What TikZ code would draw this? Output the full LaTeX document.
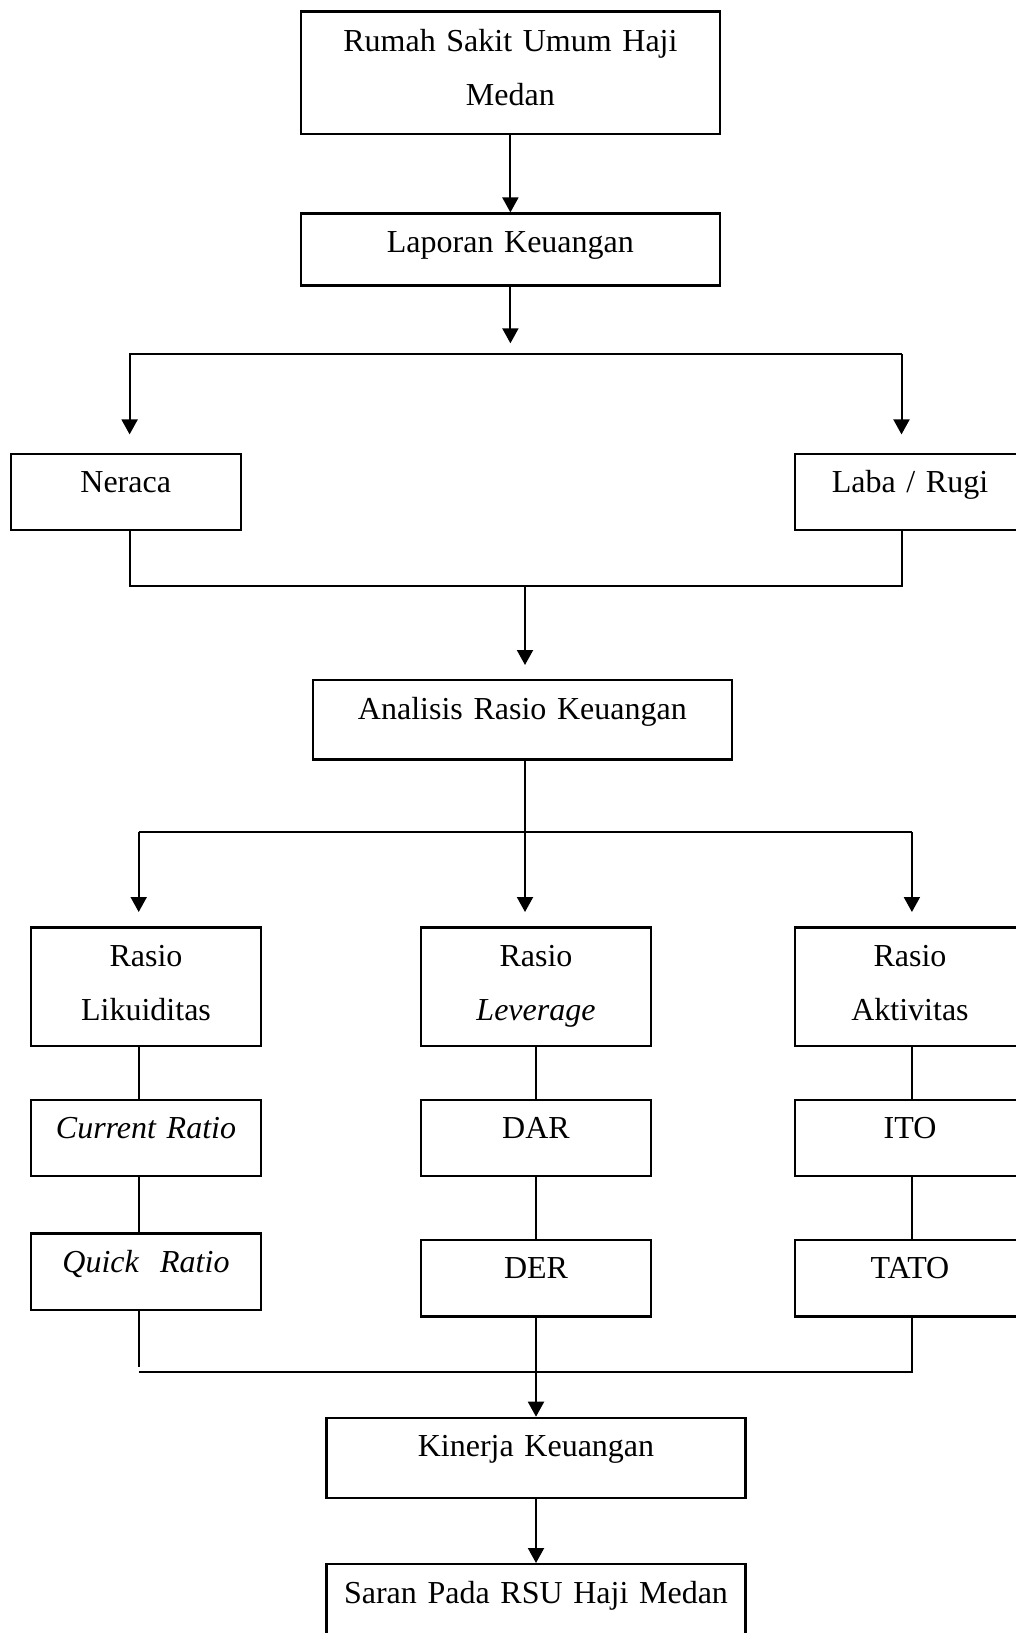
\documentclass[tikz,border=0pt]{standalone}
\usepackage{fontspec}
\setmainfont{Liberation Serif}
\usetikzlibrary{arrows.meta}

\begin{document}
\begin{tikzpicture}[x=0.5pt, y=-0.5pt,
    font=\fontsize{16pt}{27pt}\selectfont,
    box/.style={draw, line width=1.2pt, inner sep=0pt, align=center,
        anchor=north, text height=19.5pt},
    wide/.style={box, text width=209.5pt},
    narrow/.style={box, text width=115pt},
    line/.style={line width=1pt},
    arr/.style={line width=1pt, -{Triangle[length=7.5pt,width=8pt]}}]
    \useasboundingbox (0,0) rectangle (1016,1633);
    \clip (0,0) rectangle (1016,1633);

    % top boxes
    \node[wide, text height=19.75pt, text depth=41.5pt] (rsu) at (510.4,10.3) {Rumah Sakit Umum Haji\\Medan};
    \node[wide, text depth=16.5pt] (lap) at (510.4,212.4) {Laporan Keuangan};
    \node[narrow, text depth=18.4pt] (ner) at (125.7,452.7) {Neraca};
    \node[narrow, text depth=18.4pt] (lab) at (910,452.7) {Laba / Rugi};
    \node[wide, text depth=20.3pt] (ana) at (522.4,678.8) {Analisis Rasio Keuangan};

    % rasio columns
    \node[narrow, text depth=39.8pt] (rl) at (146,926.4) {Rasio\\Likuiditas};
    \node[narrow, text depth=39.8pt] (rv) at (536,926.4) {Rasio\\\textit{Leverage}};
    \node[narrow, text depth=39.8pt] (ra) at (910,926.4) {Rasio\\Aktivitas};
    \node[narrow, text depth=18.5pt] (cr) at (146,1098.7) {\textit{Current Ratio}};
    \node[narrow, text depth=18.5pt] (dar) at (536,1098.7) {DAR};
    \node[narrow, text depth=18.5pt] (ito) at (910,1098.7) {ITO};
    \node[narrow, text depth=18.7pt] (qr) at (146,1232.3) {\textit{Quick~~Ratio}};
    \node[narrow, text depth=18.8pt] (der) at (536,1238.7) {DER};
    \node[narrow, text depth=18.8pt] (tato) at (910,1238.7) {TATO};

    % bottom boxes
    \node[wide, text depth=20.5pt] (kin) at (536,1416.7) {Kinerja Keuangan};
    \node[wide, text depth=20.5pt] (sar) at (536,1563) {Saran Pada RSU Haji Medan};

    % free ends and branch points
    \coordinate (lapEnd) at (510.4,343.3);
    \coordinate (brL) at (129.6,354.4);
    \coordinate (brR) at (901.5,354.4);
    \coordinate (nerIn) at (129.6,434.4);
    \coordinate (labIn) at (901.5,434.4);
    \coordinate (mgL) at (129.6,586);
    \coordinate (mgR) at (901.5,586);
    \coordinate (mgC) at (525,586);
    \coordinate (anaIn) at (525,665);
    \coordinate (rbL) at (138.7,832.3);
    \coordinate (rbR) at (911.9,832.3);
    \coordinate (rlIn) at (138.7,912);
    \coordinate (rvIn) at (525,912);
    \coordinate (raIn) at (911.9,912);
    \coordinate (qrEnd) at (138.7,1366.7);
    \coordinate (kbL) at (138.7,1372.3);
    \coordinate (kbR) at (911.9,1372.3);

    % arrows at the top
    \draw[arr] (rsu) -- (lap);
    \draw[arr] (lap) -- (lapEnd);
    \draw[arr] (brR) -- (brL) -- (nerIn);
    \draw[arr] (brR) -- (labIn);

    % neraca and laba/rugi together
    \draw[line] (ner.south -| mgL) -- (mgL) -- (mgR) -- (lab.south -| mgR);
    \draw[arr] (mgC) -- (anaIn);

    % three kinds of rasio
    \draw[line] (rbL) -- (rbR);
    \draw[arr] (ana.south -| rvIn) -- (rvIn);
    \draw[arr] (rbL) -- (rlIn);
    \draw[arr] (rbR) -- (raIn);

    % columns
    \foreach \a/\b/\c in {rl/cr/rlIn, cr/qr/rlIn, rv/dar/rv, dar/der/rv, ra/ito/raIn, ito/tato/raIn} {
        \draw[line] (\a.south -| \c) -- (\b.north -| \c);
    }

    % to kinerja and saran
    \draw[line] (qr.south -| qrEnd) -- (qrEnd);
    \draw[line] (kbL) -- (kbR) -- (tato.south -| kbR);
    \draw[arr] (der) -- (kin);
    \draw[arr] (kin) -- (sar);
\end{tikzpicture}
\end{document}
